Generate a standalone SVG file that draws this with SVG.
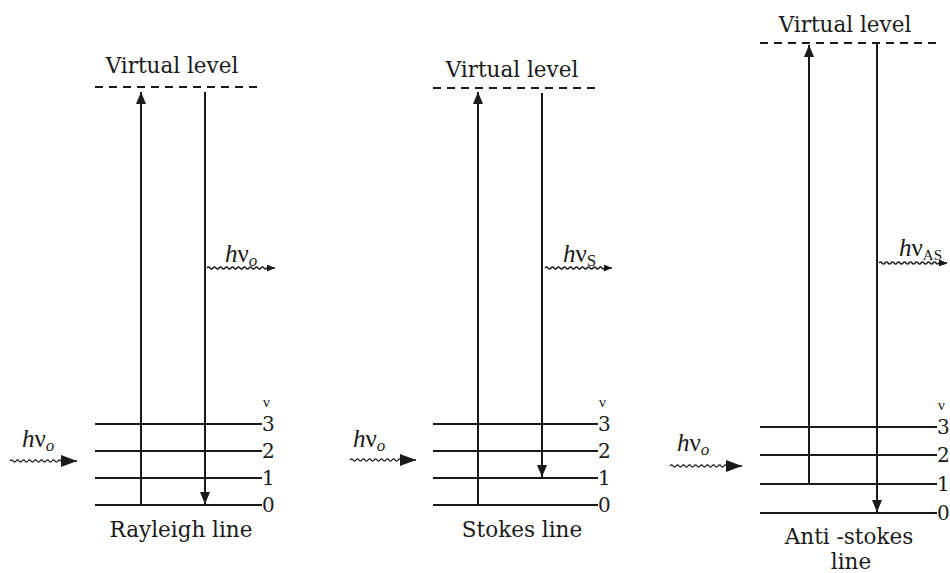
<svg xmlns="http://www.w3.org/2000/svg" width="950" height="573" viewBox="0 0 950 573">
<style>
text{font-family:"DejaVu Serif","Liberation Serif",serif;fill:#1a1a1a}
.lbl{font-size:21.5px}
.num{font-size:20px}
.nu{font-size:15px;font-family:"Liberation Serif",serif}
.hv{font-size:25px;font-family:"Liberation Serif",serif}
.ln{stroke:#1a1a1a;stroke-width:2;fill:none}
.dash{stroke:#1a1a1a;stroke-width:2.2;stroke-dasharray:8,6;fill:none}
.wave{stroke:#1a1a1a;stroke-width:1.3;fill:none}
</style>
<defs>
<marker id="ah" markerUnits="userSpaceOnUse" markerWidth="14" markerHeight="12" refX="12" refY="5" orient="auto">
<path d="M0,0 L12,5 L0,10 Z" fill="#1a1a1a"/>
</marker>
<marker id="big" markerUnits="userSpaceOnUse" markerWidth="18" markerHeight="14" refX="16" refY="6" orient="auto">
<path d="M0,0 L16,6 L0,12 Z" fill="#1a1a1a"/>
</marker>
<marker id="sm" markerUnits="userSpaceOnUse" markerWidth="10" markerHeight="8" refX="8" refY="3.5" orient="auto">
<path d="M0,0 L8,3.5 L0,7 Z" fill="#1a1a1a"/>
</marker>
</defs>

<g id="rayleigh">
<text class="lbl" x="172" y="73" text-anchor="middle">Virtual level</text>
<line class="dash" x1="95" y1="87" x2="262" y2="87"/>
<line class="ln" x1="95" y1="424" x2="262" y2="424"/>
<line class="ln" x1="95" y1="451" x2="262" y2="451"/>
<line class="ln" x1="95" y1="478" x2="262" y2="478"/>
<line class="ln" x1="95" y1="505" x2="262" y2="505"/>
<text class="nu" x="263" y="407">ν</text>
<text class="num" x="262" y="431">3</text>
<text class="num" x="262" y="458">2</text>
<text class="num" x="262" y="485">1</text>
<text class="num" x="262" y="512">0</text>
<text class="lbl" x="181" y="537" text-anchor="middle">Rayleigh line</text>
<text class="hv" x="22" y="447"><tspan font-style="italic">h</tspan>ν<tspan font-size="17" dy="4" font-style="italic">o</tspan></text>
<text class="hv" x="225" y="262"><tspan font-style="italic">h</tspan>ν<tspan font-size="17" dy="4" font-style="italic">o</tspan></text>
</g>

<g id="stokes">
<text class="lbl" x="512" y="77" text-anchor="middle">Virtual level</text>
<line class="dash" x1="433" y1="88" x2="600" y2="88"/>
<line class="ln" x1="433" y1="424" x2="598" y2="424"/>
<line class="ln" x1="433" y1="451" x2="598" y2="451"/>
<line class="ln" x1="433" y1="478" x2="598" y2="478"/>
<line class="ln" x1="433" y1="505" x2="598" y2="505"/>
<text class="nu" x="599" y="407">ν</text>
<text class="num" x="598" y="431">3</text>
<text class="num" x="598" y="458">2</text>
<text class="num" x="598" y="485">1</text>
<text class="num" x="598" y="512">0</text>
<text class="lbl" x="522" y="537" text-anchor="middle">Stokes line</text>
<text class="hv" x="353" y="447"><tspan font-style="italic">h</tspan>ν<tspan font-size="17" dy="4" font-style="italic">o</tspan></text>
<text class="hv" x="563" y="262"><tspan font-style="italic">h</tspan>ν<tspan font-size="17" dy="4">S</tspan></text>
</g>

<g id="antistokes">
<text class="lbl" x="845" y="32" text-anchor="middle">Virtual level</text>
<line class="dash" x1="760" y1="43" x2="937" y2="43"/>
<line class="ln" x1="760" y1="427" x2="937" y2="427"/>
<line class="ln" x1="760" y1="455" x2="937" y2="455"/>
<line class="ln" x1="760" y1="484" x2="937" y2="484"/>
<line class="ln" x1="760" y1="513" x2="937" y2="513"/>
<text class="nu" x="938" y="410">ν</text>
<text class="num" x="937" y="434">3</text>
<text class="num" x="937" y="462">2</text>
<text class="num" x="937" y="491">1</text>
<text class="num" x="937" y="520">0</text>
<text class="lbl" x="849" y="544" text-anchor="middle">Anti -stokes</text>
<text class="lbl" x="851" y="569" text-anchor="middle">line</text>
<text class="hv" x="677" y="451"><tspan font-style="italic">h</tspan>ν<tspan font-size="17" dy="4" font-style="italic">o</tspan></text>
<text class="hv" x="899" y="256"><tspan font-style="italic">h</tspan>ν<tspan font-size="15" dy="4">AS</tspan></text>
</g>

<g id="connectors">
<line class="ln" x1="141" y1="505" x2="141" y2="92" marker-end="url(#ah)"/>
<line class="ln" x1="205" y1="92" x2="205" y2="504" marker-end="url(#ah)"/>
<path class="wave" d="M10,461 q1.5,-2.2 3,0 t3,0 t3,0 t3,0 t3,0 t3,0 t3,0 t3,0 t3,0 t3,0 t3,0 t3,0 t3,0 t3,0 t3,0 t3,0 t3,0 t3,0 L77,461" marker-end="url(#big)"/>
<path class="wave" d="M207,268 q1.5,-2 3,0 t3,0 t3,0 t3,0 t3,0 t3,0 t3,0 t3,0 t3,0 t3,0 t3,0 t3,0 t3,0 t3,0 t3,0 t3,0 t3,0 t3,0 t3,0 t3,0 t3,0 L275,268" marker-end="url(#sm)"/>

<line class="ln" x1="478" y1="505" x2="478" y2="92" marker-end="url(#ah)"/>
<line class="ln" x1="542" y1="93" x2="542" y2="477" marker-end="url(#ah)"/>
<path class="wave" d="M350,460 q1.5,-2.2 3,0 t3,0 t3,0 t3,0 t3,0 t3,0 t3,0 t3,0 t3,0 t3,0 t3,0 t3,0 t3,0 t3,0 t3,0 t3,0 t3,0 t3,0 L416,460" marker-end="url(#big)"/>
<path class="wave" d="M545,268 q1.5,-2 3,0 t3,0 t3,0 t3,0 t3,0 t3,0 t3,0 t3,0 t3,0 t3,0 t3,0 t3,0 t3,0 t3,0 t3,0 t3,0 t3,0 t3,0 t3,0 t3,0 t3,0 L612,268" marker-end="url(#sm)"/>

<line class="ln" x1="809" y1="484" x2="809" y2="45" marker-end="url(#ah)"/>
<line class="ln" x1="877" y1="44" x2="877" y2="512" marker-end="url(#ah)"/>
<path class="wave" d="M670,466 q1.5,-2.2 3,0 t3,0 t3,0 t3,0 t3,0 t3,0 t3,0 t3,0 t3,0 t3,0 t3,0 t3,0 t3,0 t3,0 t3,0 t3,0 t3,0 t3,0 t3,0 t3,0 t3,0 t3,0 L742,466" marker-end="url(#big)"/>
<path class="wave" d="M879,263 q1.5,-2 3,0 t3,0 t3,0 t3,0 t3,0 t3,0 t3,0 t3,0 t3,0 t3,0 t3,0 t3,0 t3,0 t3,0 t3,0 t3,0 t3,0 t3,0 t3,0 t3,0 t3,0 t3,0 L947,263" marker-end="url(#sm)"/>
</g>
</svg>
